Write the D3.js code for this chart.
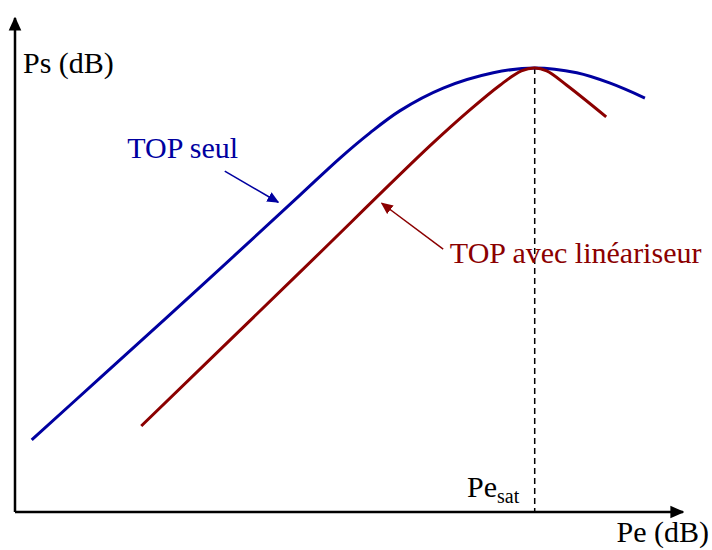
<!DOCTYPE html>
<html>
<head>
<meta charset="utf-8">
<script src="https://cdn.jsdelivr.net/npm/d3@7"></script>
<style>
  body { margin: 0; background: #fff; }
</style>
</head>
<body>
<svg id="chart" width="712" height="550"></svg>
<script>
// Pe (input power) / Ps (output power), arbitrary dB units 0..100
const topSeulPe = [2.5, 12.7, 27.7, 42.7, 48.7, 53.1, 57.6, 64.1, 71.6, 77.8, 84.1, 89.1, 94.3];
const topSeulPs = [14.6, 27.1, 45.5, 64.2, 71.7, 76.7, 81.2, 85.8, 88.9, 89.9, 88.9, 86.8, 83.8];
const topLinPe = [18.9, 42.7, 62.1, 68.1, 72.6, 75.8, 77.8, 79.6, 82.6, 88.5];
const topLinPs = [17.4, 48.6, 74.1, 81.4, 86.4, 89.3, 89.9, 89.3, 86.4, 80.0];
const peSat = 77.8;
const psSat = 89.9;

const serif = '"Liberation Serif", "Times New Roman", "DejaVu Serif", serif';
const margin = {top: 18, right: 29, bottom: 38, left: 15};
const svg = d3.select('#chart').attr('font-family', serif);
const width = +svg.attr('width');
const height = +svg.attr('height');

const x = d3.scaleLinear().domain([0, 100]).range([margin.left, width - margin.right]);
const y = d3.scaleLinear().domain([0, 100]).range([height - margin.bottom, margin.top]);

const blue = '#0000a0';
const red = '#8b0000';

// arrow heads
const defs = svg.append('defs');
function marker(id, color, size){
    defs.append('marker')
        .attr('id', id)
        .attr('viewBox', '0 -5 10 10')
        .attr('refX', 9)
        .attr('refY', 0)
        .attr('markerUnits', 'userSpaceOnUse')
        .attr('markerWidth', size)
        .attr('markerHeight', size)
        .attr('orient', 'auto')
        .append('path')
        .attr('d', 'M0,-4.5L10,0L0,4.5Z')
        .attr('fill', color);
}
marker('arrowAxis', '#000', 14);
marker('arrowBlue', blue, 12);
marker('arrowRed', red, 12);

// axes
svg.append('line')
    .attr('x1', x(0)).attr('y1', y(0))
    .attr('x2', x(0)).attr('y2', y(100))
    .attr('stroke', '#000').attr('stroke-width', 2.5)
    .attr('marker-end', 'url(#arrowAxis)');
svg.append('line')
    .attr('x1', x(0)).attr('y1', y(0))
    .attr('x2', x(100)).attr('y2', y(0))
    .attr('stroke', '#000').attr('stroke-width', 2.5)
    .attr('marker-end', 'url(#arrowAxis)');

// saturation marker
svg.append('line')
    .attr('x1', x(peSat)).attr('y1', y(psSat))
    .attr('x2', x(peSat)).attr('y2', y(0))
    .attr('stroke', '#000').attr('stroke-width', 1.5)
    .attr('stroke-dasharray', '6,4');

const lineGen = d3.line()
    .curve(d3.curveCatmullRom.alpha(0.5))
    .x(d => x(d[0]))
    .y(d => y(d[1]));

svg.append('path')
    .datum(d3.zip(topSeulPe, topSeulPs))
    .attr('d', lineGen)
    .attr('fill', 'none')
    .attr('stroke', blue)
    .attr('stroke-width', 3);

svg.append('path')
    .datum(d3.zip(topLinPe, topLinPs))
    .attr('d', lineGen)
    .attr('fill', 'none')
    .attr('stroke', red)
    .attr('stroke-width', 3);

// annotations
svg.append('line')
    .attr('x1', x(31.4)).attr('y1', y(69.0))
    .attr('x2', x(39.4)).attr('y2', y(62.7))
    .attr('stroke', blue).attr('stroke-width', 1.5)
    .attr('marker-end', 'url(#arrowBlue)');
svg.append('line')
    .attr('x1', x(64.1)).attr('y1', y(53.2))
    .attr('x2', x(54.9)).attr('y2', y(62.5))
    .attr('stroke', red).attr('stroke-width', 1.5)
    .attr('marker-end', 'url(#arrowRed)');

svg.append('text')
    .attr('x', x(16.8)).attr('y', y(71.7))
    .attr('font-family', serif)
    .attr('fill', blue).attr('font-size', 30)
    .text('TOP seul');
svg.append('text')
    .attr('x', x(65.1)).attr('y', y(50.4))
    .attr('font-family', serif)
    .attr('fill', red).attr('font-size', 30)
    .text('TOP avec linéariseur');

svg.append('text')
    .attr('x', 23).attr('y', 73)
    .attr('font-family', serif)
    .attr('font-size', 30)
    .text('Ps (dB)');

const pesat = svg.append('text')
    .attr('x', 467).attr('y', 497)
    .attr('font-family', serif)
    .attr('font-size', 30);
pesat.append('tspan').text('Pe');
pesat.append('tspan').attr('font-size', 20).attr('dy', 6).text('sat');

svg.append('text')
    .attr('x', 709).attr('y', 542)
    .attr('text-anchor', 'end')
    .attr('font-family', serif)
    .attr('font-size', 30)
    .text('Pe (dB)');
</script>
</body>
</html>
